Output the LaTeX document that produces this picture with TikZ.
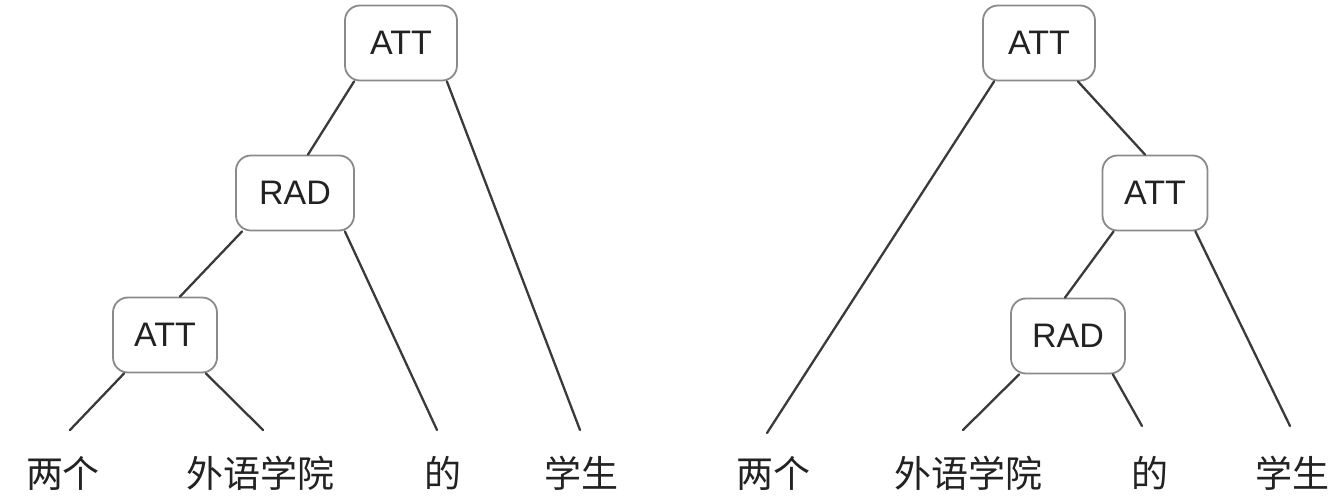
\documentclass[tikz,border=0pt]{standalone}
\usepackage{fontspec}
\setmainfont{Liberation Sans}
\newfontfamily\cjk{Noto Sans CJK SC}
\definecolor{boxc}{HTML}{8A8A8A}
\definecolor{linec}{HTML}{3A3A3A}
\definecolor{textc}{HTML}{222222}
\begin{document}
\begin{tikzpicture}[x=1pt,y=-1pt,
  rel/.style={draw=boxc, line width=1.8pt, rounded corners=15pt, fill=white,
    minimum height=75pt, inner sep=0pt, text=textc, font=\fontsize{34}{34}\selectfont},
  word/.style={anchor=base, inner sep=0pt, text=textc, font=\cjk\fontsize{37}{37}\selectfont},
  edge/.style={draw=linec, line width=2.3pt, line cap=round}]
\useasboundingbox (0,0) rectangle (1342,503);
% left tree
\node[rel, minimum width=112pt] (A1) at (401,43) {ATT};
\node[rel, minimum width=118pt] (R1) at (295,193) {RAD};
\node[rel, minimum width=104pt] (A2) at (165,335) {ATT};
\node[word] (w1) at (63,487) {两个};
\node[word] (w2) at (260,487) {外语学院};
\node[word] (w3) at (443,487) {的};
\node[word] (w4) at (581,487) {学生};
\coordinate (e1) at (70,430);
\coordinate (e2) at (263,430);
\coordinate (e3) at (437,430);
\coordinate (e4) at (580,430);
\draw[edge] ([xshift=10pt]A1.south west) -- ([xshift=13pt]R1.north);
\draw[edge] ([xshift=-11pt]A1.south east) -- (e4);
\draw[edge] ([xshift=7pt]R1.south west) -- ([xshift=15pt]A2.north);
\draw[edge] ([xshift=-10pt]R1.south east) -- (e3);
\draw[edge] ([xshift=12pt]A2.south west) -- (e1);
\draw[edge] ([xshift=-12pt]A2.south east) -- (e2);
% right tree
\node[rel, minimum width=112pt] (A3) at (1039,43) {ATT};
\node[rel, minimum width=105pt] (A4) at (1155,193) {ATT};
\node[rel, minimum width=114pt] (R2) at (1068,336) {RAD};
\node[word] (v1) at (773,487) {两个};
\node[word] (v2) at (968,487) {外语学院};
\node[word] (v3) at (1150,487) {的};
\node[word] (v4) at (1292,487) {学生};
\coordinate (f1) at (767,433);
\coordinate (f2) at (963,430);
\coordinate (f3) at (1142,426);
\coordinate (f4) at (1290,426);
\draw[edge] ([xshift=12pt]A3.south west) -- (f1);
\draw[edge] ([xshift=-18pt]A3.south east) -- ([xshift=-10pt]A4.north);
\draw[edge] ([xshift=12pt]A4.south west) -- ([xshift=-3pt]R2.north);
\draw[edge] ([xshift=-13pt]A4.south east) -- (f4);
\draw[edge] ([xshift=9pt]R2.south west) -- (f2);
\draw[edge] ([xshift=-13pt]R2.south east) -- (f3);
\end{tikzpicture}
\end{document}
